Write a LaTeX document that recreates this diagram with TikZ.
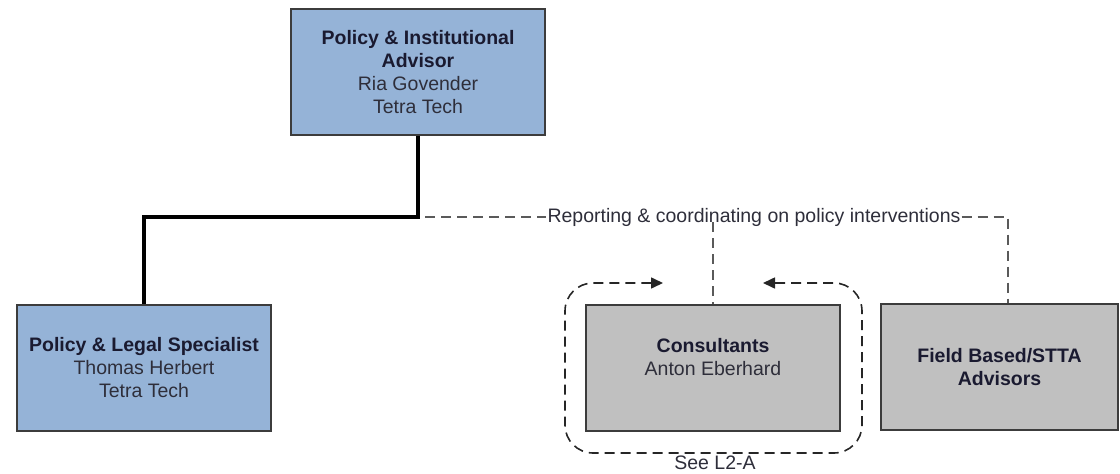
\documentclass[tikz,border=0pt]{standalone}
\usepackage{fontspec}
\setmainfont{Liberation Sans}
\usetikzlibrary{arrows.meta}
\definecolor{boxblue}{HTML}{95B3D7}
\definecolor{boxgray}{HTML}{C0C0C0}
\definecolor{boxline}{HTML}{3C3C3C}
\definecolor{headtext}{HTML}{1A1A30}
\definecolor{subtext}{HTML}{2E2E3A}
\definecolor{dashgray}{HTML}{5A5A5A}
\tikzset{
  orgbox/.style={draw=boxline, line width=1.4pt, minimum height=126pt,
    inner sep=0pt, align=center, text=subtext,
    font=\fontsize{19.5}{23}\selectfont},
  bluebox/.style={orgbox, fill=boxblue, minimum width=254pt},
  graybox/.style={orgbox, fill=boxgray},
  reportline/.style={draw=dashgray, line width=1.5pt, dash pattern=on 10pt off 6pt},
  loopline/.style={draw=black!85, line width=1.6pt, dash pattern=on 10pt off 6pt,
    rounded corners=28pt, {Triangle[length=12pt,width=11pt]}-{Triangle[length=12pt,width=11pt]}},
  solidlink/.style={draw=black, line width=4pt},
  plain/.style={font=\fontsize{19.5}{23}\selectfont, text=subtext, inner sep=1pt},
}
\newcommand{\hd}[1]{\textbf{\color{headtext}#1}}
\begin{document}
\begin{tikzpicture}[x=1pt, y=-1pt]
  \useasboundingbox (0,0) rectangle (1120,474);

  % staff boxes
  \node[bluebox] (pia) at (418,72)
    {\hd{Policy \& Institutional}\\\hd{Advisor}\\Ria Govender\\Tetra Tech};
  \node[bluebox] (pls) at (144,368)
    {\hd{Policy \& Legal Specialist}\\Thomas Herbert\\Tetra Tech};
  \node[graybox, minimum width=254pt] (cons) at (713,368)
    {\hd{Consultants}\\Anton Eberhard\\\mbox{}};
  \node[graybox, minimum width=237pt] (field) at (999.5,367)
    {\hd{Field Based/STTA}\\\hd{Advisors}};

  % line management
  \draw[solidlink] (pia.south) -- (418,217) -| (pls.north);

  % reporting line
  \node[plain] (rep) at (754,217) {Reporting \& coordinating on policy interventions};
  \coordinate (repstart) at (425,217);
  \coordinate (repend) at (1008,217);
  \draw[reportline] (repstart) -- (rep.west);
  \draw[reportline] (rep.east) -- (repend) -- (repend |- field.north);
  \draw[reportline] (cons.north |- 0,222) -- (cons.north);

  % consultant group loop
  \draw[loopline] (663,283) -- (565,283) -- (565,453) -- (862,453) -- (862,283) -- (763,283);
  \node[plain] (seel2) at (715,463) {See L2-A};
\end{tikzpicture}
\end{document}
